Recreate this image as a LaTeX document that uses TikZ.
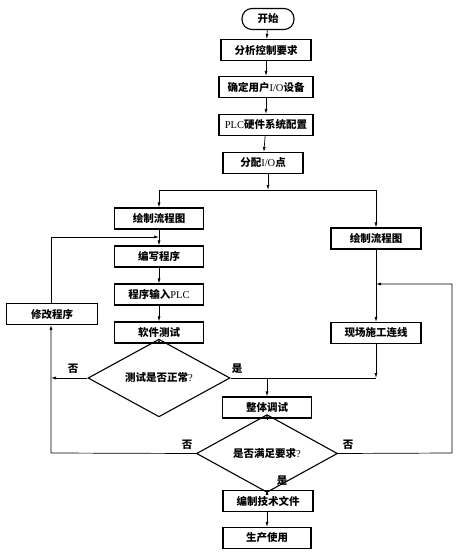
\documentclass[tikz,border=0pt]{standalone}
\usepackage{fontspec}
\setmainfont{Liberation Serif}
\newfontfamily\cjk{Noto Sans CJK SC}
\usetikzlibrary{shapes.geometric,arrows.meta}
\newcommand{\zh}[1]{{\cjk\bfseries #1}}
\begin{document}
\begin{tikzpicture}[x=1pt,y=-1pt,
  every node/.style={font=\fontsize{10.5}{12}\selectfont},
  box/.style={draw,line width=1.1pt,rectangle,inner sep=0pt,minimum height=21pt},
  dia/.style={draw,line width=1.1pt,diamond,inner sep=0pt},
  pill/.style={draw,line width=1.1pt,rectangle,rounded corners=10pt,inner sep=0pt,minimum height=21pt,minimum width=52pt},
  conn/.style={line width=0.7pt},
  arr/.style={conn,-{Latex[length=5pt,width=3pt]}},
  lbl/.style={inner sep=0pt}]
\useasboundingbox (0,0) rectangle (457,556);
% main column
\node[pill] (start) at (268,19) {\zh{开始}};
\node[box,minimum width=90pt] (b1) at (266,50) {\zh{分析控制要求}};
\node[box,minimum width=94pt] (b2) at (266,87) {\zh{确定用户}I/O\zh{设备}};
\node[box,minimum width=94pt] (b3) at (266,125) {PLC\zh{硬件系统配置}};
\node[box,minimum width=80pt] (b4) at (263,163) {\zh{分配}I/O\zh{点}};
\coordinate (split) at (268,190);
\coordinate (sl) at (159,190);
\coordinate (sr) at (376,190);
% left column
\node[box,minimum width=89pt] (l1) at (159,218.5) {\zh{绘制流程图}};
\node[box,minimum width=89pt] (l2) at (159,256.5) {\zh{编写程序}};
\node[box,minimum width=89pt] (l3) at (159,294.5) {\zh{程序输入}PLC};
\node[box,minimum width=89pt] (l4) at (159,332.5) {\zh{软件测试}};
\node[dia,minimum width=142pt,minimum height=38pt] (d1) at (159,378) {\zh{测试是否正常}?};
\node[box,minimum width=91pt] (m) at (52,314) {\zh{修改程序}};
\coordinate (jl) at (159,237);
\coordinate (mtop) at (51,237);
\coordinate (m1) at (51,378);
\coordinate (m2) at (51,453);
% right column
\node[box,minimum width=90pt] (r1) at (376,238.5) {\zh{绘制流程图}};
\node[box,minimum width=90pt] (r2) at (376,333) {\zh{现场施工连线}};
\coordinate (jr) at (376,284);
\coordinate (rr) at (376,378);
\coordinate (mid) at (267,378);
\coordinate (e1) at (452,453);
\coordinate (e2) at (452,284);
% bottom
\node[box,minimum width=89pt] (t) at (267,407.5) {\zh{整体调试}};
\node[dia,minimum width=141pt,minimum height=37pt] (d2) at (267,453.5) {\zh{是否满足要求}?};
\node[box,minimum width=90pt] (w) at (268,501) {\zh{编制技术文件}};
\node[box,minimum width=88pt] (p) at (267,538) {\zh{生产使用}};
% connectors
\draw[arr] (start) -- (b1);
\draw[arr] (b1) -- (b2);
\draw[arr] (b2) -- (b3);
\draw[arr] (b3) -- (b4);
\draw[arr] (b4.south -| split) -- (split);
\draw[conn] (sl) -- (sr);
\draw[arr] (sl) -- (l1);
\draw[arr] (sr) -- (r1);
\draw[arr] (l1) -- (l2);
\draw[arr] (m.north -| mtop) -- (mtop) -- (jl);
\draw[arr] (l2) -- (l3);
\draw[arr] (l3) -- (l4);
\draw[arr] (l4) -- (d1);
\draw[arr] (d1.west) -- (m1);
\draw[arr] (d2.west) -- (m2) -- (m.south -| m2);
\draw[conn] (d1.east) -- (rr);
\draw[arr] (r1) -- (r2);
\draw[arr] (r2) -- (rr);
\draw[arr] (mid) -- (t);
\draw[arr] (t) -- (d2);
\draw[arr] (d2.east) -- (e1) -- (e2) -- (jr);
\draw[arr] (d2.south) -- (w.north -| d2.south);
\draw[arr] (w.south -| p) -- (p);
% labels
\node[lbl] (n1) at (73,369) {\zh{否}};
\node[lbl] (y1) at (237,369) {\zh{是}};
\node[lbl] (n2) at (187,445) {\zh{否}};
\node[lbl] (n3) at (348,445) {\zh{否}};
\node[lbl] (y2) at (282,481) {\zh{是}};
\end{tikzpicture}
\end{document}
